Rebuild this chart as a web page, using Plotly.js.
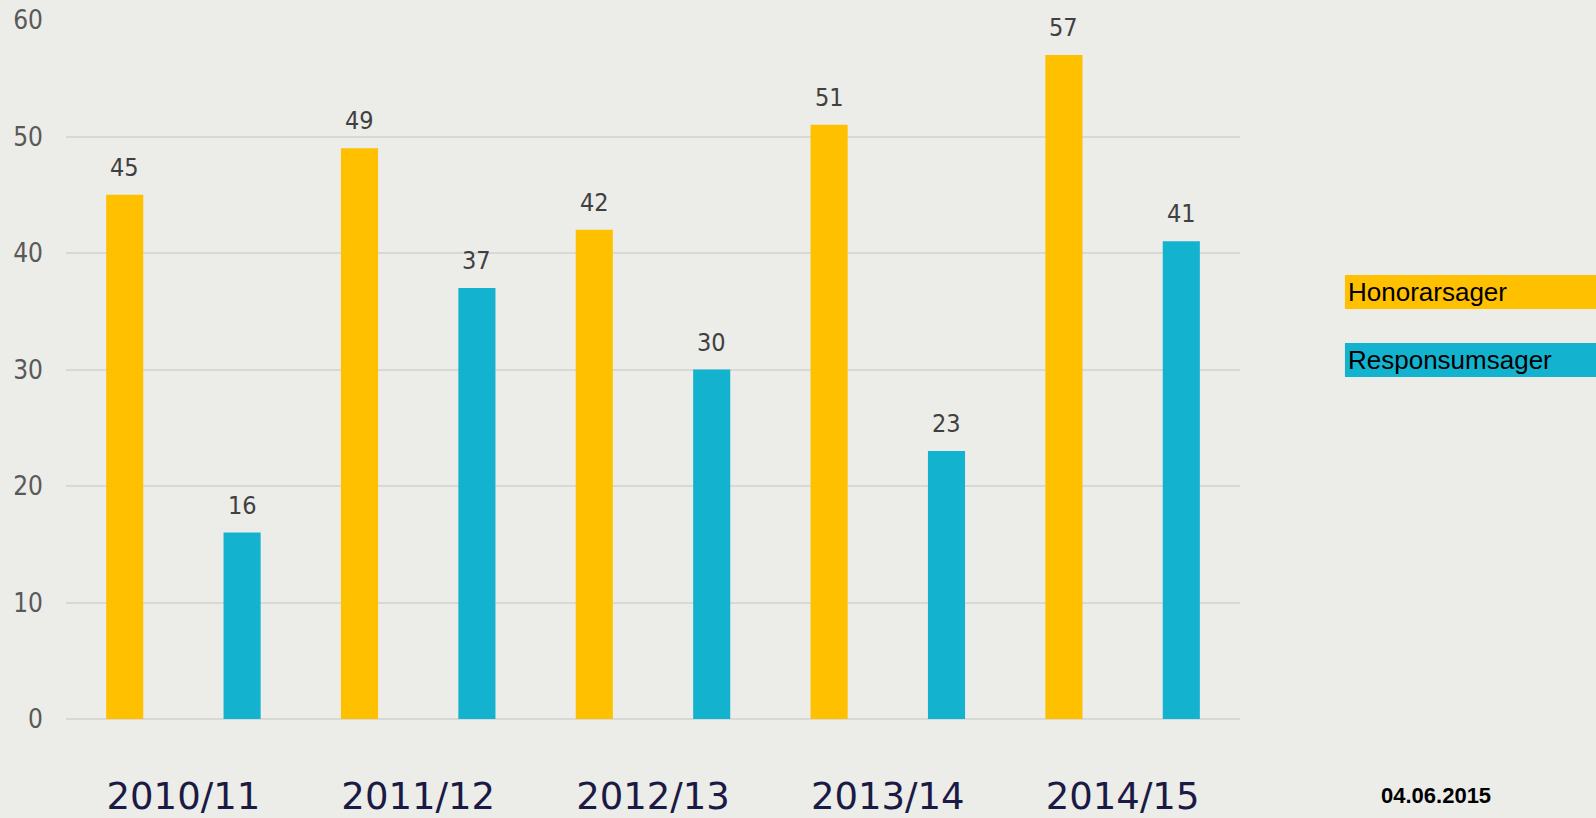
<!DOCTYPE html>
<html>
<head>
<meta charset="utf-8">
<script src="https://cdn.plot.ly/plotly-3.0.1.min.js"></script>
<style>
html,body{margin:0;padding:0;background:#ECECE8;}
#chart{width:1596px;height:818px;}
</style>
</head>
<body>
<div id="chart"></div>
<script>
const categories = ["2010/11", "2011/12", "2012/13", "2013/14", "2014/15"];
const honorarsager = [45, 49, 42, 51, 57];
const responsumsager = [16, 37, 30, 23, 41];
const seriesNames = ["Honorarsager", "Responsumsager"];
const seriesColors = ["#FFC000", "#13B3D0"];
const dateText = "04.06.2015";
const yTicks = [0, 10, 20, 30, 40, 50, 60];

const seriesValues = [honorarsager, responsumsager];
const condFont = "DejaVu Sans Condensed, DejaVu Sans, Verdana, sans-serif";

const traces = seriesValues.map((vals, s) => ({
  type: "bar",
  name: seriesNames[s],
  x: categories,
  y: vals,
  marker: {color: seriesColors[s]},
  hoverinfo: "x+y+name"
}));

const annotations = [];
seriesValues.forEach((vals, s) => {
  vals.forEach((v, i) => {
    annotations.push({
      xref: "x", yref: "y",
      x: i + (s === 0 ? -0.25 : 0.25),
      y: v,
      text: String(v),
      showarrow: false,
      yanchor: "bottom",
      yshift: 11,
      font: {family: condFont, size: 25, color: "#404040"}
    });
  });
});

// Custom legend: coloured bands with text
const legendY = [[0.5866, 0.6352], [0.4893, 0.5379]];
const shapes = [];
seriesNames.forEach((n, s) => {
  shapes.push({
    type: "rect", xref: "paper", yref: "paper",
    x0: 1.0894, x1: 1.31, y0: legendY[s][0], y1: legendY[s][1],
    fillcolor: seriesColors[s], line: {width: 0}, layer: "below"
  });
  annotations.push({
    xref: "paper", yref: "paper",
    x: 1.0905, y: (legendY[s][0] + legendY[s][1]) / 2,
    xanchor: "left", yanchor: "middle",
    text: n, showarrow: false,
    font: {family: "Liberation Sans, Arial, sans-serif", size: 26, color: "#000000"}
  });
});

annotations.push({
  xref: "paper", yref: "paper",
  x: 1.167, y: -0.109,
  xanchor: "center", yanchor: "middle",
  text: "<b>" + dateText + "</b>", showarrow: false,
  font: {family: "Liberation Sans, Arial, sans-serif", size: 22, color: "#000000"}
});

const layout = {
  width: 1596, height: 818,
  margin: {l: 66, r: 356, t: 20, b: 99, pad: 0},
  paper_bgcolor: "#ECECE8",
  plot_bgcolor: "#ECECE8",
  barmode: "group",
  bargap: 0,
  bargroupgap: 0.684,
  showlegend: false,
  xaxis: {
    type: "category",
    showgrid: false,
    zeroline: false,
    showline: false,
    ticks: "",
    ticklabelstandoff: 52,
    tickfont: {family: "DejaVu Sans, Verdana, sans-serif", size: 37, color: "#1B1A45"}
  },
  yaxis: {
    range: [0, 60],
    tickvals: yTicks,
    showgrid: true,
    gridcolor: "#D8D8D6",
    gridwidth: 2,
    zeroline: true,
    zerolinecolor: "#D8D8D6",
    zerolinewidth: 2,
    showline: false,
    ticks: "",
    ticklabelstandoff: 22,
    tickfont: {family: condFont, size: 26, color: "#595959"}
  },
  shapes: shapes,
  annotations: annotations
};

Plotly.newPlot("chart", traces, layout, {displayModeBar: false, responsive: false});
</script>
</body>
</html>
